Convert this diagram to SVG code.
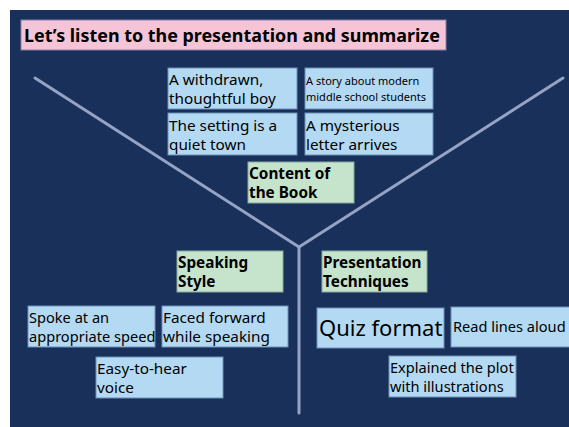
<svg xmlns="http://www.w3.org/2000/svg" width="569" height="427" viewBox="0 0 569 427">
<style>
text{font-family:"Noto Sans","Liberation Sans",sans-serif;fill:#000}
.b{fill:#b4daf3;stroke:#6f8fb8;stroke-width:1}
.g{fill:#c6e4cc;stroke:#8aa89a;stroke-width:1}
.t{font-size:15.3px}
.s{font-size:11px}
.h{font-size:15.3px;font-weight:bold}
.ln{stroke:#95a3c4;stroke-width:3;fill:none;stroke-linecap:round}
</style>
<rect x="0" y="0" width="569" height="427" fill="#ffffff"/>
<rect x="10" y="10" width="559" height="417" fill="#19305b"/>
<g id="connectors">
<line class="ln" x1="35" y1="78" x2="299" y2="247"/>
<line class="ln" x1="563" y1="78" x2="299" y2="247"/>
<line class="ln" x1="299" y1="247" x2="299" y2="413"/>
</g>
<g id="title">
<rect x="21" y="20" width="425" height="30" fill="#f5c4d6" stroke="#8a7fa8" stroke-width="1"/>
<text x="24" y="42" style="font-size:17.9px;font-weight:bold">Let’s listen to the presentation and summarize</text>
</g>
<g id="boy">
<rect class="b" x="168" y="68" width="129" height="41"/>
<text class="t" x="169" y="85">A withdrawn,</text>
<text class="t" x="169" y="104">thoughtful boy</text>
</g>
<g id="story">
<rect class="b" x="305" y="68" width="128" height="41"/>
<text class="s" x="306" y="85">A story about modern</text>
<text class="s" x="306" y="101">middle school students</text>
</g>
<g id="setting">
<rect class="b" x="168" y="113" width="129" height="42"/>
<text class="t" x="169" y="131">The setting is a</text>
<text class="t" x="169" y="150">quiet town</text>
</g>
<g id="letter">
<rect class="b" x="305" y="113" width="128" height="42"/>
<text class="t" x="306" y="131">A mysterious</text>
<text class="t" x="306" y="150">letter arrives</text>
</g>
<g id="content">
<rect class="g" x="248" y="162" width="106" height="41"/>
<text class="h" x="249" y="179">Content of</text>
<text class="h" x="249" y="198">the Book</text>
</g>
<g id="speaking">
<rect class="g" x="177" y="251" width="106" height="41"/>
<text class="h" x="178" y="268">Speaking</text>
<text class="h" x="178" y="287">Style</text>
</g>
<g id="techniques">
<rect class="g" x="322" y="251" width="105" height="41"/>
<text class="h" x="323" y="268">Presentation</text>
<text class="h" x="323" y="287">Techniques</text>
</g>
<g id="speed">
<rect class="b" x="28" y="306" width="127" height="41"/>
<text class="t" x="29" y="323" style="font-size:14.6px">Spoke at an</text>
<text class="t" x="29" y="342" style="font-size:14.6px">appropriate speed</text>
</g>
<g id="forward">
<rect class="b" x="162" y="306" width="126" height="41"/>
<text class="t" x="163" y="323">Faced forward</text>
<text class="t" x="163" y="342">while speaking</text>
</g>
<g id="voice">
<rect class="b" x="96" y="357" width="127" height="41"/>
<text class="t" x="97" y="374">Easy-to-hear</text>
<text class="t" x="97" y="393">voice</text>
</g>
<g id="quiz">
<rect class="b" x="317" y="308" width="127" height="40"/>
<text x="319" y="336" style="font-size:22px">Quiz format</text>
</g>
<g id="aloud">
<rect class="b" x="451" y="307" width="130" height="40"/>
<text class="t" x="453" y="332" style="font-size:14.6px">Read lines aloud</text>
</g>
<g id="plot">
<rect class="b" x="389" y="356" width="127" height="41"/>
<text class="t" x="390" y="373" style="font-size:14.6px">Explained the plot</text>
<text class="t" x="390" y="392" style="font-size:14.6px">with illustrations</text>
</g>
</svg>
